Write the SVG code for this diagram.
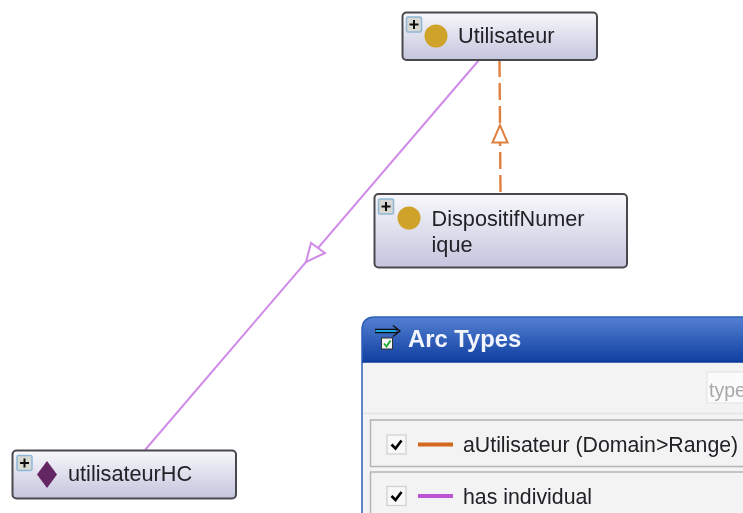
<svg xmlns="http://www.w3.org/2000/svg" width="743" height="513" viewBox="0 0 743 513">
<style>
.n{stroke:#4a4a4e;stroke-width:2;fill:url(#ng)}
.t{font-family:"Liberation Sans",Arial,sans-serif;font-size:21.700px;fill:#222228}
.l{font-family:"Liberation Sans",Arial,sans-serif;font-size:21.300px;fill:#222228}
.pb{fill:#d8d8d2;stroke:#8fb8d8;stroke-width:1.500}
.pm{stroke:#111;stroke-width:2;fill:none}
.cb{fill:#f8f8f8;stroke:#cfcfcf;stroke-width:1.200}
.ck{fill:none;stroke:#000;stroke-width:2.600}
.row{fill:#f3f3f3;stroke:#b4b4b4;stroke-width:1.500}
</style>
<defs>
<linearGradient id="ng" x1="0" y1="0" x2="0" y2="1"><stop offset="0" stop-color="#f8f8fb"/><stop offset="1" stop-color="#c4c4de"/></linearGradient>
<linearGradient id="hg" x1="0" y1="0" x2="0" y2="1"><stop offset="0" stop-color="#5480d2"/><stop offset="1" stop-color="#0f3fa0"/></linearGradient>
<filter id="soft" x="0" y="0" width="100%" height="100%" filterUnits="userSpaceOnUse"><feGaussianBlur stdDeviation="0.450"/></filter>
</defs>
<rect width="743" height="513" fill="#fff"/>
<g filter="url(#soft)">
<g id="connectors">
<line x1="479" y1="60" x2="145" y2="450" stroke="#d08ae8" stroke-width="2"/>
<polygon points="306,262 311,243 325,253" fill="#fff" stroke="#d08ae8" stroke-width="2"/>
<line x1="499.500" y1="60" x2="500.500" y2="194" stroke="#e08040" stroke-width="2.400" stroke-dasharray="17 6"/>
<polygon points="500,125 492.500,142.500 507.500,142.500" fill="#fff" stroke="#e08040" stroke-width="2"/>
</g>
<g id="node-utilisateur">
<rect class="n" x="402.500" y="12.500" width="194.500" height="47.500" rx="4"/>
<rect class="pb" x="406.500" y="17" width="15" height="15" rx="1.500"/>
<path class="pm" d="M409.500 24.500h9M414 20v9"/>
<circle cx="436" cy="36" r="11.500" fill="#cfa32b"/>
<text class="t" x="458" y="43">Utilisateur</text>
</g>
<g id="node-dispositif">
<rect class="n" x="374.500" y="194" width="252.500" height="73.500" rx="4"/>
<rect class="pb" x="378.500" y="199" width="15" height="15" rx="1.500"/>
<path class="pm" d="M381.500 206.500h9M386 202v9"/>
<circle cx="409" cy="218" r="11.500" fill="#cfa32b"/>
<text class="t" x="431.500" y="226">DispositifNumer</text>
<text class="t" x="431.500" y="252">ique</text>
</g>
<g id="node-utilisateurhc">
<rect class="n" x="12.500" y="450.500" width="223.500" height="48" rx="4"/>
<rect class="pb" x="17" y="455.500" width="15" height="15" rx="1.500"/>
<path class="pm" d="M20 463h9M24.500 458.500v9"/>
<polygon points="47,461 57,474.500 47,488 37,474.500" fill="#642564"/>
<text class="t" x="68" y="481">utilisateurHC</text>
</g>
<g id="arc-types">
<path d="M362 513V330q0-13 13-13H743V513Z" fill="#f3f3f3"/>
<path d="M362 362V330q0-13 13-13H743V362Z" fill="url(#hg)"/>
<path d="M362 513V330q0-13 13-13H743" fill="none" stroke="#2f5fb8" stroke-width="1.500"/>
<line x1="362" y1="362" x2="743" y2="362" stroke="#0b3a9c" stroke-width="1.500"/>
<line x1="363" y1="413.500" x2="743" y2="413.500" stroke="#e4e4e4" stroke-width="1.500"/>
<rect x="707" y="372" width="40" height="31" fill="#fbfbfb" stroke="#e2e2e2"/>
<text x="709" y="397" font-family="'Liberation Sans',Arial,sans-serif" font-size="19.500" fill="#a8a8a8">type</text>
<path d="M375 329.500H398M375 332.500H398" stroke="#111" stroke-width="1.500"/>
<path d="M376 331H396" stroke="#18a8e0" stroke-width="2"/>
<path d="M393 325.500L400 331L393 336.500" fill="none" stroke="#111" stroke-width="1.300"/>
<rect x="381.500" y="338" width="11" height="11" fill="#f4f4f4" stroke="#333" stroke-width="1"/>
<path d="M384 343.500l2.500 3 4-6" fill="none" stroke="#1aa82a" stroke-width="1.800"/>
<text x="408" y="347" font-family="'Liberation Sans',Arial,sans-serif" font-size="23.800" font-weight="bold" fill="#f2f6fc">Arc Types</text>
<rect class="row" x="370.500" y="420" width="380" height="46.500"/>
<rect class="cb" x="387" y="435" width="19" height="19"/>
<path class="ck" d="M391.500 444.500l4 4 6-8"/>
<line x1="418" y1="444.500" x2="453" y2="444.500" stroke="#d2691e" stroke-width="3.800"/>
<text class="l" x="463" y="452">aUtilisateur (Domain&gt;Range)</text>
<rect class="row" x="370.500" y="472" width="380" height="50"/>
<rect class="cb" x="387" y="486.500" width="19" height="19"/>
<path class="ck" d="M391.500 496l4 4 6-8"/>
<line x1="418" y1="496" x2="453" y2="496" stroke="#bc55d4" stroke-width="3.800"/>
<text class="l" x="463" y="503.500">has individual</text>
</g>
</g>
</svg>
